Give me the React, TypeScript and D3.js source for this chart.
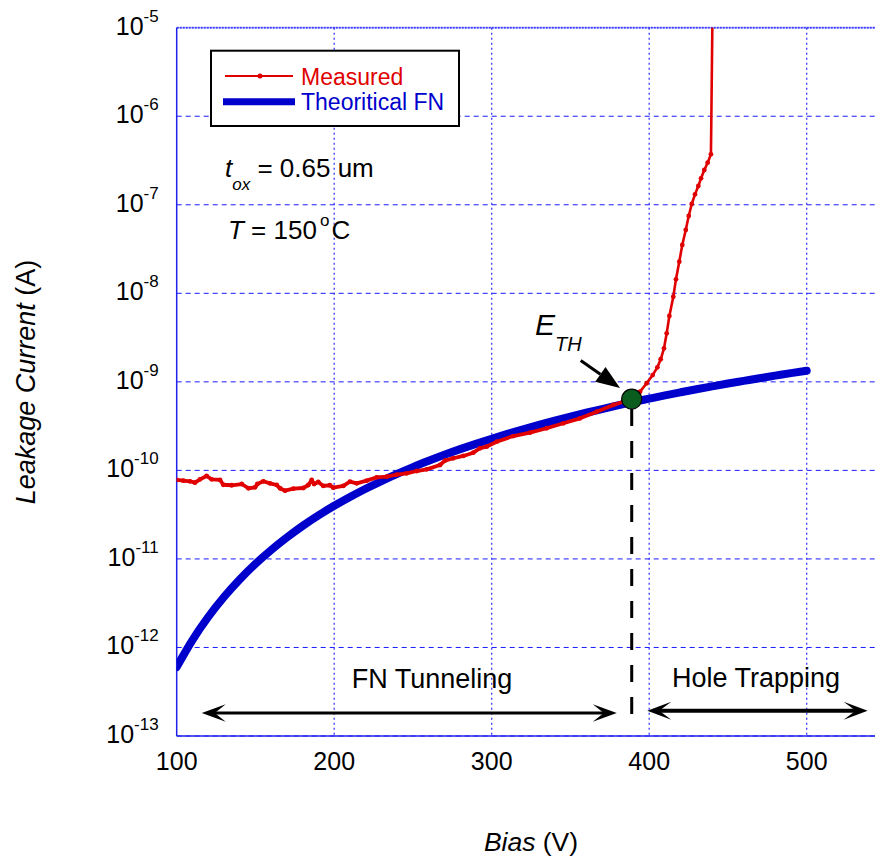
import React from 'react';
import * as d3 from 'd3';

const W = 875;
const H = 859;
const FONT = 'Liberation Sans, Arial, Helvetica, sans-serif';

const xTickValues = [100, 200, 300, 400, 500];
const yTickExponents = [-5, -6, -7, -8, -9, -10, -11, -12, -13];

// Theoretical FN curve (log10 of current, A)
const fnBias = [100, 110, 120, 130, 140, 150, 160, 170, 180, 190, 200, 210, 220, 230, 240, 250, 260, 270, 280, 290, 300, 310, 320, 330, 340, 350, 360, 370, 380, 390, 400, 410, 420, 430, 440, 450, 460, 470, 480, 490, 500];
const fnLogCurrent = [-12.22, -11.916, -11.656, -11.43, -11.232, -11.056, -10.899, -10.757, -10.627, -10.509, -10.4, -10.3, -10.207, -10.12, -10.039, -9.963, -9.892, -9.824, -9.76, -9.7, -9.643, -9.588, -9.536, -9.486, -9.438, -9.393, -9.349, -9.307, -9.266, -9.227, -9.19, -9.153, -9.118, -9.084, -9.051, -9.019, -8.989, -8.959, -8.93, -8.901, -8.874];

// Measured curve (log10 of current, A)
const measuredBias = [100, 104.2, 108.4, 111.6, 114.8, 119.0, 122.2, 127.5, 129.6, 134.9, 141.3, 145.5, 149.7, 151.2, 155.0, 159.2, 163.5, 165.6, 168.8, 174.1, 180.4, 183.6, 185.7, 187.2, 189.9, 193.1, 197.3, 199.4, 205.8, 210, 214.3, 220.6, 227, 233.3, 239.7, 246, 252.4, 258.7, 267.2, 270.3, 275.6, 282, 288.3, 292.6, 296.8, 303.2, 313.7, 324.3, 334.9, 345.5, 356.1, 366.7, 377.2, 383.6, 388.9, 394.2, 398.4, 402.2, 405.2, 407.3, 409.4, 411.1, 412.8, 415.3, 417, 419.1, 421, 423.2, 425.1, 427, 429.1, 431.2, 432.9, 435, 437.1, 439.2, 440.7];
const measuredLogCurrent = [-10.108, -10.116, -10.123, -10.139, -10.101, -10.063, -10.101, -10.108, -10.162, -10.168, -10.154, -10.202, -10.191, -10.154, -10.123, -10.146, -10.165, -10.202, -10.229, -10.207, -10.199, -10.165, -10.108, -10.154, -10.131, -10.176, -10.168, -10.195, -10.176, -10.128, -10.146, -10.116, -10.078, -10.071, -10.048, -10.033, -10.007, -9.988, -9.939, -9.89, -9.863, -9.837, -9.8, -9.75, -9.732, -9.676, -9.612, -9.574, -9.524, -9.468, -9.412, -9.337, -9.261, -9.224, -9.194, -9.111, -9.016, -8.923, -8.836, -8.745, -8.621, -8.452, -8.256, -8.038, -7.842, -7.643, -7.454, -7.285, -7.127, -6.991, -6.882, -6.788, -6.701, -6.607, -6.525, -6.43, -4.0];

const thresholdBias = 388.9;
const thresholdLogCurrent = -9.194;

const RED = '#e00000';
const BLUE = '#0000cc';
const GRID = '#1a1aff';

type Pt = { b: number; c: number };

function stealthHead(tipX: number, tipY: number, dir: number, len: number, hw: number, notch: number) {
  const bx = tipX - dir * len;
  const nx = tipX - dir * notch;
  return `M${tipX},${tipY} L${bx},${tipY - hw} L${nx},${tipY} L${bx},${tipY + hw} Z`;
}

export default function App() {
  const left = 176.7;
  const top = 27.7;
  const bottom = 736;
  const x = d3.scaleLinear().domain([100, 550]).range([left, left + 450 * 1.575]);
  const y = d3.scaleLog().domain([1e-13, 1e-5]).range([bottom, top]);
  const right = x(550);

  const fnData: Pt[] = fnBias.map((b, i) => ({ b, c: Math.pow(10, fnLogCurrent[i]) }));
  const mData: Pt[] = measuredBias.map((b, i) => ({ b, c: Math.pow(10, measuredLogCurrent[i]) }));
  const mLow = mData.filter(d => d.b <= thresholdBias);
  const mHigh = mData.filter(d => d.b >= thresholdBias);

  const fnLine = d3.line<Pt>().x(d => x(d.b)).y(d => y(d.c)).curve(d3.curveMonotoneX);
  const mLine = d3.line<Pt>().x(d => x(d.b)).y(d => y(d.c));

  const cx = x(thresholdBias);
  const cy = y(Math.pow(10, thresholdLogCurrent));

  // E_TH arrow
  const tipX = cx - 11.7;
  const tipY = cy - 11;
  const ux = 0.819, uy = 0.573;
  const px = -uy, py = ux;
  const headLen = 24, headHw = 9;
  const hbX = tipX - headLen * ux, hbY = tipY - headLen * uy;
  const tailX = tipX - 48 * ux, tailY = tipY - 48 * uy;

  const fnArrowY = 713;
  const htArrowY = 710.7;
  const fnL = x(115.9), fnR = x(379.4);
  const htL = x(398.8), htR = x(538.7);

  return (
    <svg width={W} height={H} style={{ position: 'absolute', left: 0, top: 0, background: '#fff' }} fontFamily={FONT}>
      <defs>
        <clipPath id="plotClip">
          <rect x={left} y={top} width={right - left} height={bottom - top} />
        </clipPath>
      </defs>
      <rect x={0} y={0} width={W} height={H} fill="#fff" />

      {/* grid */}
      {yTickExponents.map(e => (
        <line key={'gy' + e} x1={left} x2={right} y1={y(Math.pow(10, e))} y2={y(Math.pow(10, e))}
          stroke={GRID} strokeWidth={1} strokeDasharray={e === -5 ? '2,1' : '5,4'} />
      ))}
      {xTickValues.slice(1).map(v => (
        <line key={'gx' + v} x1={x(v)} x2={x(v)} y1={top} y2={bottom}
          stroke={GRID} strokeWidth={1.3} strokeDasharray="2,3" opacity={0.85} />
      ))}
      <line x1={left} x2={right} y1={top} y2={top} stroke="#3a3aff" strokeWidth={2} strokeDasharray="2,1" opacity={0.8} />
      <line x1={left} x2={left} y1={top} y2={bottom} stroke="#2222ee" strokeWidth={1.5} />
      <line x1={left} x2={right} y1={bottom} y2={bottom} stroke="#2222ee" strokeWidth={1.5} />

      {/* y tick labels */}
      {yTickExponents.map(e => (
        <text key={'ty' + e} x={left - 18} y={y(Math.pow(10, e)) + 7} textAnchor="end" fontSize={25} fill="#000">
          10<tspan fontSize={17} dy={-13}>{String(e)}</tspan>
        </text>
      ))}
      {/* x tick labels */}
      {xTickValues.map(v => (
        <text key={'tx' + v} x={x(v)} y={bottom + 34} textAnchor="middle" fontSize={25} fill="#000">{v}</text>
      ))}

      {/* axis titles */}
      <text x={531} y={851} textAnchor="middle" fontSize={26.5} fill="#000">
        <tspan fontStyle="italic">Bias</tspan> (V)
      </text>
      <text transform={`translate(35,382) rotate(-90)`} textAnchor="middle" fontSize={27} fill="#000">
        <tspan fontStyle="italic">Leakage Current</tspan> (A)
      </text>

      {/* data */}
      <g clipPath="url(#plotClip)">
        <path d={fnLine(fnData) || ''} fill="none" stroke={BLUE} strokeWidth={8} strokeLinecap="round" strokeLinejoin="round" />
        <path d={mLine(mLow) || ''} fill="none" stroke={RED} strokeWidth={3.8} strokeLinejoin="round" />
        <path d={mLine(mHigh) || ''} fill="none" stroke={RED} strokeWidth={2.6} strokeLinejoin="round" />
        {mData.map((d, i) => (
          <circle key={'m' + i} cx={x(d.b)} cy={y(d.c)} r={2.4} fill={RED} />
        ))}
      </g>

      {/* threshold dashed line */}
      <line x1={cx} x2={cx} y1={cy + 10} y2={715} stroke="#000" strokeWidth={3} strokeDasharray="17,15" />
      <circle cx={cx} cy={cy} r={10} fill="#0a5c1f" stroke="#000" strokeWidth={1.2} />

      {/* E_TH annotation */}
      <line x1={tailX} y1={tailY} x2={hbX} y2={hbY} stroke="#000" strokeWidth={3} />
      <path d={`M${tipX},${tipY} L${hbX + headHw * px},${hbY + headHw * py} L${hbX - headHw * px},${hbY - headHw * py} Z`} fill="#000" />
      <text x={535} y={335} fontSize={30} fontStyle="italic" fill="#000">E<tspan fontSize={20} dy={16}>TH</tspan></text>

      {/* region arrows */}
      <line x1={fnL + 10} x2={fnR - 10} y1={fnArrowY} y2={fnArrowY} stroke="#000" strokeWidth={2.8} />
      <path d={stealthHead(fnL, fnArrowY, -1, 24, 8.7, 13)} fill="#000" />
      <path d={stealthHead(fnR, fnArrowY, 1, 24, 8.7, 13)} fill="#000" />
      <text x={432} y={688.3} textAnchor="middle" fontSize={27} fill="#000">FN Tunneling</text>

      <line x1={htL + 10} x2={htR - 10} y1={htArrowY} y2={htArrowY} stroke="#000" strokeWidth={4} />
      <path d={stealthHead(htL, htArrowY, -1, 24, 9, 12)} fill="#000" />
      <path d={stealthHead(htR, htArrowY, 1, 24, 9, 12)} fill="#000" />
      <text x={756} y={686.7} textAnchor="middle" fontSize={27} fill="#000">Hole Trapping</text>

      {/* parameters */}
      <text x={225} y={177} fontSize={26} fill="#000">
        <tspan fontStyle="italic">t</tspan>
        <tspan fontStyle="italic" fontSize={17} dy={13}>ox</tspan>
        <tspan dy={-13}> = 0.65 um</tspan>
      </text>
      <text x={228} y={239} fontSize={26} fill="#000">
        <tspan fontStyle="italic">T</tspan> = 150<tspan fontSize={17} dx={3} dy={-13}>o</tspan><tspan dx={2} dy={13}>C</tspan>
      </text>

      {/* legend */}
      <rect x={211} y={50.7} width={248} height={75.3} fill="#fff" stroke="#000" strokeWidth={2} />
      <line x1={225} x2={293} y1={76} y2={76} stroke={RED} strokeWidth={2} />
      <circle cx={260} cy={76} r={2.5} fill={RED} />
      <text x={301} y={85} fontSize={23} fill={RED}>Measured</text>
      <line x1={223} x2={295} y1={101.7} y2={101.7} stroke={BLUE} strokeWidth={7} />
      <text x={301} y={110} fontSize={23} fill={BLUE}>Theoritical FN</text>
    </svg>
  );
}
